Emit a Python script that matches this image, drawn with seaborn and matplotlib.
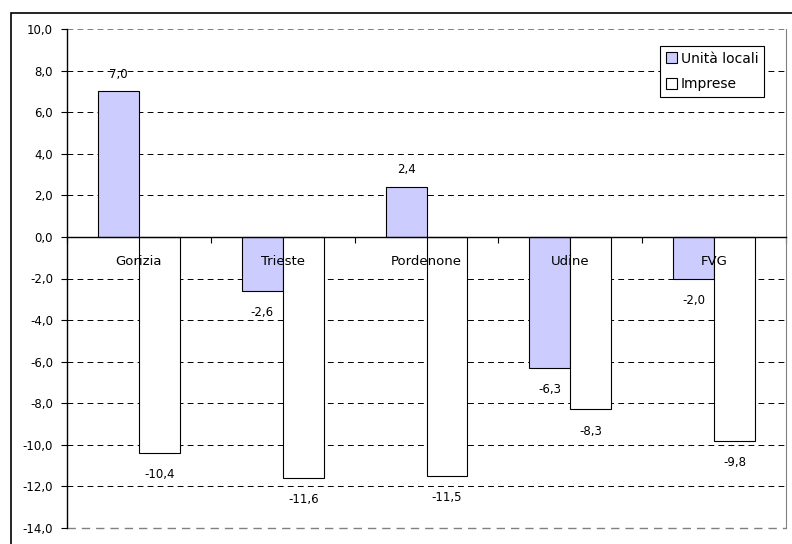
import pandas as pd
import matplotlib
matplotlib.use("Agg")
import matplotlib.pyplot as plt
from matplotlib.patches import Patch, Rectangle
import seaborn as sns

# Dati
province = ["Gorizia", "Trieste", "Pordenone", "Udine", "FVG"]
unita_locali = [7.0, -2.6, 2.4, -6.3, -2.0]
imprese = [-10.4, -11.6, -11.5, -8.3, -9.8]
serie = ["Unità locali", "Imprese"]
colori = {"Unità locali": "#CCCCFF", "Imprese": "#FFFFFF"}
y_ticks = [-14, -12, -10, -8, -6, -4, -2, 0, 2, 4, 6, 8, 10]

df = pd.DataFrame({
    "Provincia": province * 2,
    "Serie": [serie[0]] * len(province) + [serie[1]] * len(province),
    "Valore": unita_locali + imprese,
})


def virgola(v):
    return f"{v:.1f}".replace(".", ",")


sns.set_style("white")
plt.rcParams["font.family"] = ["DejaVu Sans"]
plt.rcParams["text.color"] = "black"
plt.rcParams["xtick.color"] = "black"
plt.rcParams["ytick.color"] = "black"

fig = plt.figure(figsize=(7.92, 5.44), dpi=100)
ax = fig.add_axes([67 / 792, 1 - 528 / 544, 719 / 792, 499 / 544])

sns.barplot(data=df, x="Provincia", y="Valore", hue="Serie", hue_order=serie,
            palette=colori, order=province, width=0.57, edgecolor="black",
            linewidth=0.8, saturation=1, ax=ax, legend=False)

ax.set_axisbelow(True)
ax.set_xlim(-0.5, len(province) - 0.5)
ax.set_ylim(-14, 10)
ax.set_yticks(y_ticks)
ax.set_yticklabels([virgola(v) for v in y_ticks], fontsize=8.5, color="black")
ax.tick_params(axis="y", direction="out", length=4, width=0.8, color="black", pad=6,
               left=True)
ax.yaxis.grid(True, linestyle=(0, (6, 4.3)), color="black", linewidth=0.7)
ax.xaxis.grid(False)
ax.set_xlabel("")
ax.set_ylabel("")
# bordo superiore dell'area del grafico in grigio
ax.yaxis.get_gridlines()[-1].set_color("#808080")
# linea tratteggiata grigia sul bordo inferiore
ax.axhline(-14, linestyle=(0, (6, 4.3)), color="#808080", linewidth=1.0, clip_on=False,
           zorder=0.5)

# asse x sullo zero, tacche tra le categorie
ax.spines["bottom"].set_position(("data", 0))
ax.spines["bottom"].set_color("black")
ax.spines["bottom"].set_linewidth(1.0)
ax.spines["left"].set_color("black")
ax.spines["left"].set_linewidth(1.0)
ax.spines["right"].set_visible(True)
ax.spines["right"].set_color("#808080")
ax.spines["right"].set_linewidth(0.8)
ax.spines["top"].set_visible(False)
ax.set_xticks([i - 0.5 for i in range(len(province) + 1)])
ax.set_xticklabels([])
ax.tick_params(axis="x", direction="out", length=4, width=0.8, color="black",
               bottom=True)

# etichette delle province sopra le barre
for i, nome in enumerate(province):
    ax.annotate(nome, xy=(i, 0), xytext=(0, -18), textcoords="offset points",
                ha="center", va="center", fontsize=9.5, color="black", zorder=5)

# etichette dei valori
for cont, valori in zip(ax.containers, [unita_locali, imprese]):
    for barra, v in zip(cont.patches, valori):
        xc = barra.get_x() + barra.get_width() / 2
        dy = 12.5 if v >= 0 else -15.5
        ax.annotate(virgola(v), xy=(xc, v), xytext=(0, dy), textcoords="offset points",
                    ha="center", va="center", fontsize=8.5, color="black", zorder=5)

handles = [Patch(facecolor=colori[s], edgecolor="black", linewidth=0.8) for s in serie]
leg = ax.legend(handles, serie, loc="upper right",
                bbox_to_anchor=(764 / 792, 1 - 46 / 544), bbox_transform=fig.transFigure,
                frameon=True, fancybox=False, edgecolor="black", framealpha=1,
                handlelength=0.8, handleheight=0.8, handletextpad=0.3,
                borderpad=0.4, labelspacing=0.85, borderaxespad=0, fontsize=10)
leg.get_frame().set_linewidth(0.8)
for t in leg.get_texts():
    t.set_color("black")

# cornice esterna del grafico
fig.add_artist(Rectangle((11 / 792, -0.1), 1.0, 1.1 - 13 / 544, transform=fig.transFigure,
                         fill=False, edgecolor="black", linewidth=1.2))

plt.savefig("out.png", dpi=100)
